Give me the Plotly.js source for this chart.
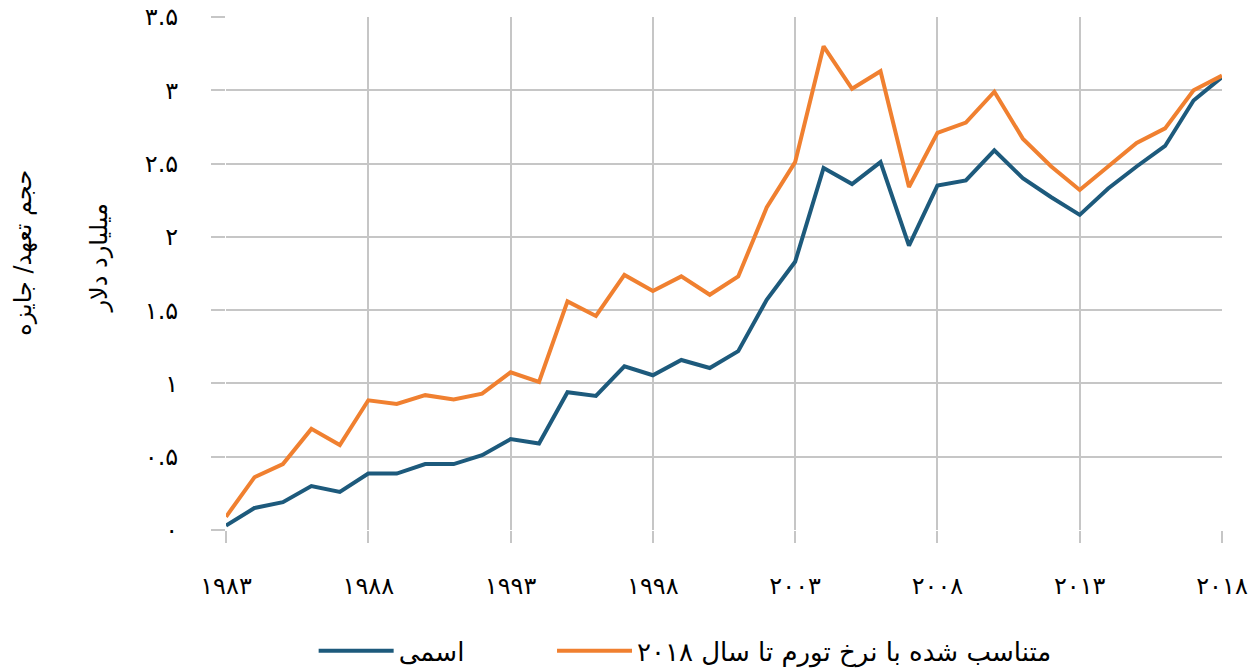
<!DOCTYPE html>
<html>
<head>
<meta charset="utf-8">
<script src="https://cdn.plot.ly/plotly-3.0.1.min.js"></script>
<style>html,body{margin:0;padding:0;background:#fff;}#chart{width:1250px;height:671px;}</style>
</head>
<body>
<div id="chart"></div>
<script>
const years = [1983,1984,1985,1986,1987,1988,1989,1990,1991,1992,1993,1994,1995,1996,1997,1998,1999,2000,2001,2002,2003,2004,2005,2006,2007,2008,2009,2010,2011,2012,2013,2014,2015,2016,2017,2018];
const nominal = [0.03,0.15,0.19,0.30,0.26,0.385,0.385,0.45,0.45,0.51,0.62,0.59,0.94,0.915,1.117,1.056,1.16,1.105,1.22,1.57,1.83,2.47,2.36,2.51,1.94,2.35,2.385,2.59,2.40,2.27,2.15,2.33,2.48,2.62,2.93,3.09];
const adjusted = [0.09,0.36,0.45,0.69,0.58,0.885,0.86,0.92,0.89,0.93,1.076,1.01,1.56,1.46,1.74,1.63,1.73,1.605,1.73,2.20,2.51,3.30,3.01,3.13,2.34,2.71,2.78,2.99,2.67,2.48,2.32,2.48,2.64,2.74,3.0,3.10];
const seriesNames = ['اسمی', 'متناسب شده با نرخ تورم تا سال ۲۰۱۸'];
const xTickVals = [1983,1988,1993,1998,2003,2008,2013,2018];
const xTickText = ['۱۹۸۳','۱۹۸۸','۱۹۹۳','۱۹۹۸','۲۰۰۳','۲۰۰۸','۲۰۱۳','۲۰۱۸'];
const yTickVals = [0,0.5,1,1.5,2,2.5,3,3.5];
const yTickText = ['۰','۰.۵','۱','۱.۵','۲','۲.۵','۳','۳.۵'];
const yTitle1 = 'حجم تعهد/ جایزه';
const yTitle2 = 'میلیارد دلار';

const FONT = 'DejaVu Sans, Noto Sans, sans-serif';
const PAD = '\u00A0'.repeat(10);
const traces = [
  {x: years, y: nominal, type: 'scatter', mode: 'lines', name: seriesNames[0] + PAD,
   line: {color: '#1d5a7c', width: 4}},
  {x: years, y: adjusted, type: 'scatter', mode: 'lines', name: seriesNames[1],
   line: {color: '#f08030', width: 4}}
];
const layout = {
  width: 1250, height: 671,
  margin: {l: 226, r: 28, t: 17, b: 141, autoexpand: false},
  paper_bgcolor: '#fff', plot_bgcolor: '#fff',
  font: {family: FONT, size: 24, color: '#000'},
  showlegend: true,
  legend: {orientation: 'h', x: 0.088, xanchor: 'left', y: -0.19, yanchor: 'top',
           font: {family: FONT, size: 26, color: '#000'}, itemwidth: 75,
           traceorder: 'normal'},
  xaxis: {range: [1983, 2018], tickvals: xTickVals, ticktext: xTickText,
          showgrid: true, gridcolor: '#c6c6c6', gridwidth: 2,
          ticks: 'outside', ticklen: 12, tickcolor: '#c6c6c6', tickwidth: 2,
          ticklabelstandoff: 22, zeroline: false, showline: false,
          tickfont: {family: FONT, size: 24}},
  yaxis: {range: [0, 3.5], tickvals: yTickVals, ticktext: yTickText,
          showgrid: true, gridcolor: '#c6c6c6', gridwidth: 2,
          ticks: 'outside', ticklen: 14, tickcolor: '#c6c6c6', tickwidth: 2,
          ticklabelstandoff: 28, zeroline: false, showline: false,
          tickfont: {family: FONT, size: 24}},
  annotations: [
    {text: yTitle1, xref: 'paper', yref: 'paper', x: -0.204, y: 0.54, textangle: -90,
     showarrow: false, xanchor: 'center', yanchor: 'middle', font: {family: FONT, size: 24}},
    {text: yTitle2, xref: 'paper', yref: 'paper', x: -0.127, y: 0.53, textangle: -90,
     showarrow: false, xanchor: 'center', yanchor: 'middle', font: {family: FONT, size: 24}}
  ]
};
Plotly.newPlot('chart', traces, layout, {displayModeBar: false, staticPlot: true});
</script>
</body>
</html>
